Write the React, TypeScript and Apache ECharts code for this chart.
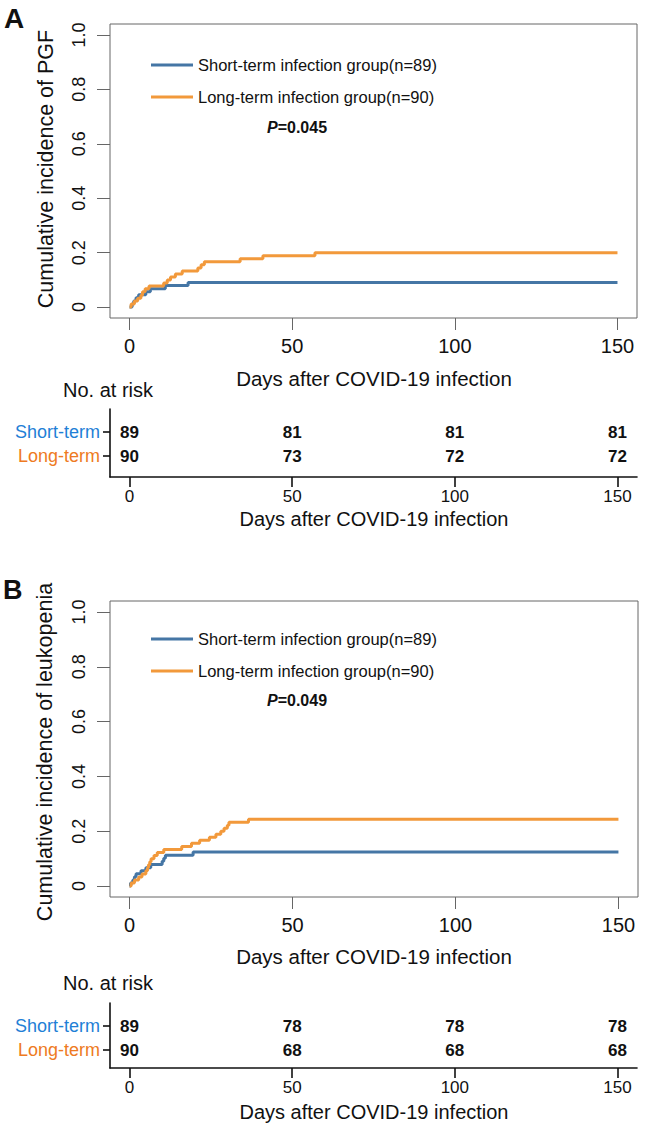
import React, { useEffect, useRef } from "react";
import * as echarts from "echarts";

// ---------- data ----------
const groupNames = ["Short-term infection group(n=89)", "Long-term infection group(n=90)"];
const tableRowLabels = ["Short-term", "Long-term"];
const xTicks = [0, 50, 100, 150];
const yTicks = [0, 0.2, 0.4, 0.6, 0.8, 1.0];

// Panel A: cumulative incidence of PGF
const daysAShort = [0, 0.8, 1.3, 2, 2.8, 5, 6.4, 11, 18, 150];
const incAShort = [0, 0.011, 0.022, 0.034, 0.045, 0.056, 0.067, 0.079, 0.09, 0.09];
const daysALong = [0, 0.5, 1.5, 2.5, 3.5, 4, 4.8, 6, 10.5, 11.6, 12.6, 14.1, 16.2, 21, 22, 23, 34, 41, 57, 150];
const incALong = [0, 0.011, 0.022, 0.033, 0.044, 0.056, 0.067, 0.078, 0.089, 0.1, 0.111, 0.122, 0.133, 0.144, 0.156, 0.167, 0.178, 0.189, 0.2, 0.2];
const riskAShort = [89, 81, 81, 81];
const riskALong = [90, 73, 72, 72];
const pValueA = "0.045";

// Panel B: cumulative incidence of leukopenia
const daysBShort = [0, 0.3, 1, 1.5, 2, 3.5, 5, 6.5, 10, 10.5, 11, 19.5, 150];
const incBShort = [0, 0.011, 0.022, 0.034, 0.045, 0.056, 0.067, 0.079, 0.09, 0.101, 0.112, 0.124, 0.124];
const daysBLong = [0, 0.5, 1.5, 2.8, 3.8, 5, 5.5, 5.8, 6.2, 6.6, 7.5, 8.5, 10.5, 16, 19, 21.5, 24.5, 26.5, 28, 29, 30, 30.5, 36.5, 150];
const incBLong = [0, 0.011, 0.022, 0.033, 0.044, 0.056, 0.067, 0.078, 0.089, 0.1, 0.111, 0.122, 0.133, 0.144, 0.156, 0.167, 0.178, 0.189, 0.2, 0.211, 0.222, 0.233, 0.244, 0.244];
const riskBShort = [89, 78, 78, 78];
const riskBLong = [90, 68, 68, 68];
const pValueB = "0.049";

// ---------- style ----------
const FONT = "'Liberation Sans', Arial, Helvetica, sans-serif";
const BLUE = "#4576a5";
const ORANGE = "#f2993b";
const BLUE_TXT = "#1f80d6";
const ORANGE_TXT = "#ee7a22";
const FRAME = "#666";
const INK = "#111";

const pairs = (xs: number[], ys: number[]) => xs.map((x, i) => [x, ys[i]]);

function plotAxes(grid: number) {
  const x = {
    gridIndex: grid, type: "value", min: -6, max: 156,
    axisLine: { show: false, onZero: false }, splitLine: { show: false },
    axisTick: { show: true, customValues: xTicks, length: 12, lineStyle: { color: FRAME, width: 1 } },
    axisLabel: { customValues: xTicks, fontSize: 20, color: INK, margin: 18, fontFamily: FONT },
  };
  const y = {
    gridIndex: grid, type: "value", min: -0.04, max: 1.04,
    axisLine: { show: false, onZero: false }, splitLine: { show: false },
    axisTick: { show: true, customValues: yTicks, length: 13, lineStyle: { color: FRAME, width: 1 } },
    axisLabel: {
      customValues: yTicks, rotate: 90, fontSize: 18, color: INK, margin: 22, fontFamily: FONT,
      formatter: (v: number) => (Math.abs(v) < 1e-9 ? "0" : v.toFixed(1)),
    },
  };
  return { x, y };
}

function tableAxes(grid: number, maxY: number, rowPos: number[]) {
  const x = {
    gridIndex: grid, type: "value", min: -6, max: 156,
    axisLine: { show: true, onZero: false, lineStyle: { color: INK, width: 1.6 } },
    splitLine: { show: false },
    axisTick: { show: true, customValues: xTicks, length: 10, lineStyle: { color: INK, width: 1.6 } },
    axisLabel: { customValues: xTicks, fontSize: 17, color: INK, margin: 11, fontFamily: FONT },
  };
  const y = {
    gridIndex: grid, type: "value", min: 0, max: maxY,
    axisLine: { show: true, onZero: false, lineStyle: { color: INK, width: 1.6 } },
    splitLine: { show: false },
    axisTick: { show: true, customValues: rowPos, length: 7, lineStyle: { color: INK, width: 1.6 } },
    axisLabel: {
      customValues: rowPos, fontSize: 18, margin: 10, fontFamily: FONT,
      formatter: (v: number) => (Math.abs(v - rowPos[1]) < 1e-6 ? `{s|${tableRowLabels[0]}}` : `{l|${tableRowLabels[1]}}`),
      rich: {
        s: { color: BLUE_TXT, fontSize: 18, fontFamily: FONT },
        l: { color: ORANGE_TXT, fontSize: 18, fontFamily: FONT },
      },
    },
  };
  return { x, y };
}

function curveSeries(name: string, grid: number, color: string, data: number[][]) {
  return {
    name, type: "line", xAxisIndex: grid, yAxisIndex: grid, step: "end",
    showSymbol: false, symbol: "none", data,
    lineStyle: { color, width: 3 }, itemStyle: { color },
  };
}

function riskSeries(id: string, grid: number, yPos: number, values: number[]) {
  return {
    id, type: "scatter", xAxisIndex: grid, yAxisIndex: grid, symbolSize: 1,
    itemStyle: { color: "rgba(0,0,0,0)", opacity: 1 },
    data: xTicks.map((t, i) => [t, yPos, values[i]]),
    label: {
      show: true, position: "inside", formatter: (p: any) => String(p.value[2]),
      fontSize: 17, fontWeight: "bold", color: INK, fontFamily: FONT, opacity: 1,
      textBorderWidth: 0,
    },
  };
}

function legendAt(top: number) {
  return {
    left: 146, top, orient: "vertical", data: groupNames, icon: "rect",
    itemWidth: 42, itemHeight: 3, itemGap: 12, selectedMode: false,
    textStyle: { fontSize: 16.5, lineHeight: 20, color: INK, fontFamily: FONT },
  };
}

function txt(text: string, x: number, y: number, fontSize: number, extra: any = {}) {
  return {
    type: "text", x, y, silent: true,
    style: { text, fontSize, fill: INK, fontFamily: FONT, textAlign: "left", textVerticalAlign: "middle", ...extra },
  };
}

function pText(p: string, x: number, y: number) {
  return {
    type: "text", x, y, silent: true,
    style: {
      text: `{i|P}{b|=${p}}`, textVerticalAlign: "middle",
      rich: {
        i: { fontStyle: "italic", fontWeight: "bold", fontSize: 16, fill: INK, fontFamily: FONT },
        b: { fontWeight: "bold", fontSize: 16, fill: INK, fontFamily: FONT },
      },
    },
  };
}

export default function App() {
  const ref = useRef<HTMLDivElement>(null);
  useEffect(() => {
    if (!ref.current) return;
    const chart = echarts.init(ref.current, undefined, { renderer: "svg" });
    const pA = plotAxes(0);
    const tA = tableAxes(1, 68 / 24, [0.875, 1.875]);
    const pB = plotAxes(2);
    const tB = tableAxes(3, 65 / 24, [0.75, 1.75]);
    const option: any = {
      animation: false,
      backgroundColor: "#fff",
      textStyle: { fontFamily: FONT },
      grid: [
        { left: 110, top: 24, width: 527, height: 294, show: true, borderColor: FRAME, borderWidth: 1, backgroundColor: "transparent" },
        { left: 110, top: 409, width: 527, height: 68, show: false },
        { left: 110, top: 601, width: 528, height: 296, show: true, borderColor: FRAME, borderWidth: 1, backgroundColor: "transparent" },
        { left: 110, top: 1003, width: 527, height: 65, show: false },
      ],
      xAxis: [pA.x, tA.x, pB.x, tB.x],
      yAxis: [pA.y, tA.y, pB.y, tB.y],
      legend: [legendAt(50), legendAt(624)],
      series: [
        curveSeries(groupNames[0], 0, BLUE, pairs(daysAShort, incAShort)),
        curveSeries(groupNames[1], 0, ORANGE, pairs(daysALong, incALong)),
        curveSeries(groupNames[0], 2, BLUE, pairs(daysBShort, incBShort)),
        curveSeries(groupNames[1], 2, ORANGE, pairs(daysBLong, incBLong)),
        riskSeries("riskAShort", 1, 1.875, riskAShort),
        riskSeries("riskALong", 1, 0.875, riskALong),
        riskSeries("riskBShort", 3, 1.75, riskBShort),
        riskSeries("riskBLong", 3, 0.75, riskBLong),
      ],
      graphic: [
        txt("A", 4, 18, 28, { fontWeight: "bold" }),
        txt("B", 3, 590, 27, { fontWeight: "bold" }),
        { ...txt("Cumulative incidence of PGF", 46, 169, 21.5, { textAlign: "center" }), rotation: Math.PI / 2 },
        { ...txt("Cumulative incidence of leukopenia", 45, 752, 21.5, { textAlign: "center" }), rotation: Math.PI / 2 },
        txt("Days after COVID-19 infection", 374, 378, 20.5, { textAlign: "center" }),
        txt("Days after COVID-19 infection", 374, 956, 20.5, { textAlign: "center" }),
        txt("No. at risk", 63, 390, 20),
        txt("No. at risk", 63, 983, 20),
        txt("Days after COVID-19 infection", 374, 519, 20, { textAlign: "center" }),
        txt("Days after COVID-19 infection", 374, 1112, 20, { textAlign: "center" }),
        pText(pValueA, 267, 127),
        pText(pValueB, 267, 700),
      ],
    };
    chart.setOption(option);
    return () => chart.dispose();
  }, []);
  return (
    <div
      ref={ref}
      style={{ position: "absolute", left: 0, top: 0, width: 645, height: 1126, background: "#fff" }}
    />
  );
}
